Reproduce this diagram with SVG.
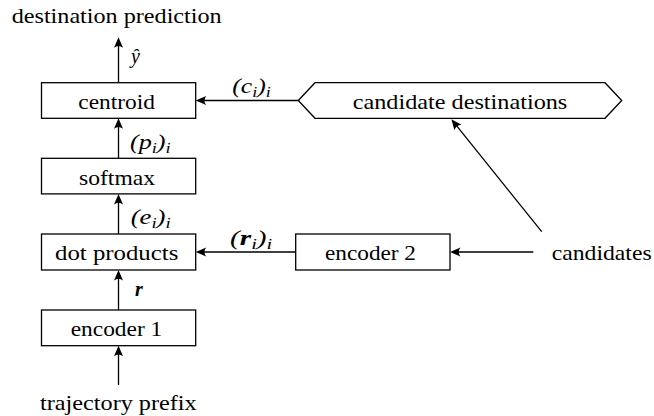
<svg xmlns="http://www.w3.org/2000/svg" width="654" height="416" viewBox="0 0 654 416">
<defs>
<marker id="ah" markerUnits="userSpaceOnUse" orient="auto" refX="0" refY="0" markerWidth="12" markerHeight="12" overflow="visible">
<path d="M4,0 L-6.5,-4.5 Q-3,0 -6.5,4.5 Z" fill="#000"/>
</marker>
</defs>
<style>
.box{fill:#fff;stroke:#000;stroke-width:1.3}
.t{font-family:'Liberation Serif',serif;font-size:21px;fill:#000}
.m{font-family:'Liberation Serif',serif;font-size:20px;font-style:italic;fill:#000}
.s{font-size:14px}
.c{stroke:#000;stroke-width:1.3;fill:none;marker-end:url(#ah)}
</style>
<rect width="654" height="416" fill="#fff"/>
<g id="connectors">
<line class="c" x1="118.5" y1="82.7" x2="118.5" y2="41.3"/>
<line class="c" x1="118.5" y1="158.3" x2="118.5" y2="122.3"/>
<line class="c" x1="118.5" y1="234" x2="118.5" y2="198"/>
<line class="c" x1="118.5" y1="310" x2="118.5" y2="274"/>
<line class="c" x1="118.5" y1="385" x2="118.5" y2="349.7"/>
<line class="c" x1="298.3" y1="100.5" x2="199.7" y2="100.5"/>
<line class="c" x1="295.7" y1="252" x2="199.7" y2="252"/>
<line class="c" x1="533.3" y1="252" x2="454" y2="252"/>
<line class="c" x1="541.7" y1="231.7" x2="453.9" y2="122.4"/>
<text class="m" x="131" y="62.5">ŷ</text>
<text class="m" x="232.3" y="93" textLength="38.4" lengthAdjust="spacingAndGlyphs">(c<tspan class="s" dy="4">i</tspan><tspan dy="-4">)</tspan><tspan class="s" dy="4">i</tspan></text>
<text class="m" x="130" y="149" textLength="40.7" lengthAdjust="spacingAndGlyphs">(p<tspan class="s" dy="4">i</tspan><tspan dy="-4">)</tspan><tspan class="s" dy="4">i</tspan></text>
<text class="m" x="130.7" y="223.5" textLength="40" lengthAdjust="spacingAndGlyphs">(e<tspan class="s" dy="4">i</tspan><tspan dy="-4">)</tspan><tspan class="s" dy="4">i</tspan></text>
<text class="m" x="230" y="244.5" textLength="42.3" lengthAdjust="spacingAndGlyphs">(<tspan font-weight="bold">r</tspan><tspan class="s" dy="4">i</tspan><tspan dy="-4">)</tspan><tspan class="s" dy="4">i</tspan></text>
<text class="m" x="135" y="296" font-weight="bold">r</text>
</g>
<g id="destination-prediction">
<text class="t" x="11.7" y="22.5" textLength="210" lengthAdjust="spacingAndGlyphs">destination prediction</text>
</g>
<g id="centroid">
<rect class="box" x="41.5" y="82.7" width="154.2" height="35.6"/>
<text class="t" x="78.3" y="109.3" textLength="76.7" lengthAdjust="spacingAndGlyphs">centroid</text>
</g>
<g id="softmax">
<rect class="box" x="41.5" y="158.3" width="154.2" height="35.6"/>
<text class="t" x="79" y="185" textLength="76" lengthAdjust="spacingAndGlyphs">softmax</text>
</g>
<g id="dot-products">
<rect class="box" x="41.5" y="234" width="154.2" height="36"/>
<text class="t" x="55" y="259.5" textLength="123.3" lengthAdjust="spacingAndGlyphs">dot products</text>
</g>
<g id="encoder-1">
<rect class="box" x="41.5" y="310" width="154.2" height="35.7"/>
<text class="t" x="70.7" y="335.5" textLength="91.6" lengthAdjust="spacingAndGlyphs">encoder 1</text>
</g>
<g id="trajectory-prefix">
<text class="t" x="40" y="410" textLength="156.7" lengthAdjust="spacingAndGlyphs">trajectory prefix</text>
</g>
<g id="encoder-2">
<rect class="box" x="295.7" y="234" width="154.3" height="36"/>
<text class="t" x="325" y="259.5" textLength="91" lengthAdjust="spacingAndGlyphs">encoder 2</text>
</g>
<g id="candidate-destinations">
<polygon class="box" points="298.3,100.5 315,82.7 605,82.7 621.7,100.5 605,118.3 315,118.3"/>
<text class="t" x="352.7" y="109.3" textLength="214.6" lengthAdjust="spacingAndGlyphs">candidate destinations</text>
</g>
<g id="candidates">
<text class="t" x="551.7" y="259.5" textLength="100" lengthAdjust="spacingAndGlyphs">candidates</text>
</g>
</svg>
